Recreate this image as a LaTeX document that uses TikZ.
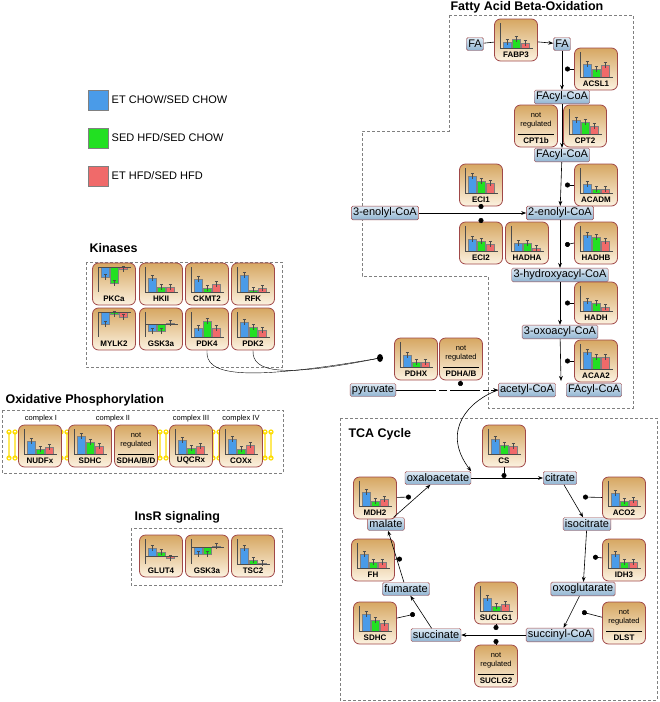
\documentclass[tikz,border=0pt]{standalone}
\usepackage{fontspec}
\setmainfont{Liberation Sans}
\usetikzlibrary{arrows.meta,positioning,shapes.geometric}

\definecolor{etchow}{HTML}{4A9BE8}
\definecolor{sedhfd}{HTML}{22E022}
\definecolor{ethfd}{HTML}{F06A6A}
\definecolor{boxred}{HTML}{A04848}
\definecolor{mettop}{HTML}{DDEAF4}
\definecolor{metbot}{HTML}{8FB3D1}
\definecolor{enztop}{HTML}{D6A762}
\definecolor{enzbot}{HTML}{FCF2E0}

\tikzset{
  met/.style = {draw=boxred, rounded corners=1.5, top color=mettop, bottom color=metbot,
                inner sep=1.8pt, minimum height=13, font=\fontsize{11}{12}\selectfont},
  enzbox/.style = {draw=boxred, thick, rounded corners=6, top color=enztop,
                   bottom color=enzbot, minimum width=43, minimum height=42},
  enzlab/.style = {font=\fontsize{8}{9}\selectfont\bfseries},
  react/.style = {semithick, -{Stealth[length=5pt]}},
  inhib/.style = {semithick, {Circle[length=5pt]}-},
  region/.style = {draw=gray, densely dashed},
  title/.style = {font=\fontsize{12.5}{14}\selectfont\bfseries, anchor=west}
}

% enzyme box: name, x, y, label, three bar heights, baseline offset
\newcommand\enz[8]{%
  \node[enzbox] (#1) at (#2,#3) {};
  \node[enzlab] at (#2,#3+14.5) {#4};
  \begin{scope}[shift={(#2,#3)}]
    \pgfmathsetmacro\yb{8-#8}
    \fill[etchow, draw=gray] (-13,\yb) rectangle (-5,\yb-#5);
    \fill[sedhfd, draw=gray] (-4,\yb) rectangle (4,\yb-#6);
    \fill[ethfd, draw=gray] (5,\yb) rectangle (13,\yb-#7);
    \foreach \bx/\bh in {-9/#5, 0/#6, 9/#7}
      \draw[black!70, very thin] (\bx,\yb-\bh-2.5) -- (\bx,\yb-\bh+2.5)
        (\bx-1.5,\yb-\bh-2.5) -- (\bx+1.5,\yb-\bh-2.5);
    \draw[black!70, thin] (-16,-17) -- (-16,8) (-16,\yb) -- (17,\yb);
  \end{scope}}

% enzyme box without data
\newcommand\nreg[4]{%
  \node[enzbox] (#1) at (#2,#3) {};
  \node[font=\fontsize{7.5}{9}\selectfont, align=center] at (#2,#3-6) {not\\regulated};
  \draw (#2-18,#3+8) -- (#2+18,#3+8);
  \node[enzlab] at (#2,#3+14.5) {#4};}

\begin{document}
\begin{tikzpicture}[x=1pt, y=-1pt]
\useasboundingbox (0,0) rectangle (660,702);

% legend
\foreach \c/\t [count=\i] in {etchow/{ET CHOW/SED CHOW}, sedhfd/{SED HFD/SED CHOW}, ethfd/{ET HFD/SED HFD}}
  \node[fill=\c, draw=gray, minimum size=20, label={[font=\fontsize{11}{12}\selectfont]right:\t}]
    (leg\i) at (98,62+38*\i) {};

% regions
\node[title] at (447,7) {Fatty Acid Beta-Oxidation};
\draw[region] (449,15) -- (633,15) -- (633,408) -- (488,408) -- (488,276) -- (362,276)
  -- (362,131) -- (449,131) -- cycle;
\node[title] at (86,248) {Kinases};
\draw[region] (86,262) rectangle (282,367);
\node[title] at (2,400) {Oxidative Phosphorylation};
\draw[region] (2,410) rectangle (283,473);
\node[title] at (131,517) {InsR signaling};
\draw[region] (131,528) rectangle (282,585);
\node[title] at (345,434) {TCA Cycle};
\draw[region] (340,418) rectangle (657,700);

% fatty acid beta-oxidation
\node[met] (fa1) at (475,44) {FA};
\node[met] (fa2) at (562,44) {FA};
\enz{fabp3}{516}{40}{FABP3}{6}{9}{5}{0}
\enz{acsl1}{596}{69}{ACSL1}{13}{8}{12}{0}
\node[met] (facoa1) at (562,97) {FAcyl-CoA};
\nreg{cpt1b}{536}{126}{CPT1b}
\enz{cpt2}{585}{126}{CPT2}{14}{12}{8}{0}
\node[met] (facoa2) at (562,155) {FAcyl-CoA};
\enz{eci1}{481}{185}{ECI1}{17}{12}{10}{0}
\enz{acadm}{596}{185}{ACADM}{9}{4}{4}{0}
\node[met] (enoyl3) at (385,213) {3-enolyl-CoA};
\node[met] (enoyl2) at (560,213) {2-enolyl-CoA};
\enz{eci2}{481}{243}{ECI2}{12}{10}{7}{0}
\enz{hadha}{527}{243}{HADHA}{8}{8}{3}{0}
\enz{hadhb}{596}{243}{HADHB}{16}{14}{10}{0}
\node[met] (hydroxy) at (560,275) {3-hydroxyacyl-CoA};
\enz{hadh}{596}{303}{HADH}{10}{8}{4}{0}
\node[met] (oxoacyl) at (560,332) {3-oxoacyl-CoA};
\enz{acaa2}{596}{361}{ACAA2}{17}{12}{12}{0}
\enz{pdhx}{416}{359}{PDHX}{12}{5}{5}{0}
\nreg{pdhab}{461}{359}{PDHA/B}
\node[met] (pyruvate) at (373,390) {pyruvate};
\node[met] (acetyl) at (527,390) {acetyl-CoA};
\node[met] (facoa3) at (594,390) {FAcyl-CoA};
\coordinate (betaend) at (561,381);
\coordinate (eci1dot) at (481,209);
\coordinate (eci2dot) at (481,218);
\coordinate (pdhdot) at (460,386);

\draw[semithick] (fa1) -- (fabp3);
\draw[react] (fabp3) -- (fa2);
\draw[react] (fa2) -- (facoa1);
\draw[react] (facoa1) -- (facoa2);
\draw[react] (facoa2) -- (enoyl2);
\draw[react] (enoyl3) -- (enoyl2);
\draw[react] (enoyl2) -- (hydroxy);
\draw[react] (hydroxy) -- (oxoacyl);
\draw[react] (oxoacyl) -- (betaend);
\draw[react, dash pattern=on 40pt off 3pt on 8pt off 3pt on 30pt off 3pt on 6pt off 2pt on 60pt] (pyruvate) -- (acetyl);
\foreach \e/\y in {acsl1/69, acadm/185, hadhb/245, hadh/303, acaa2/361}
  \draw[inhib] (565,\y) -- (\e.west);
\draw[inhib] (eci1dot) -- (eci1);
\draw[inhib] (eci2dot) -- (eci2);
\draw[inhib] (pdhdot) -- (pdhab.south);

% kinases
\enz{pkca}{114}{284}{PKCa}{-10}{-16}{-2}{25}
\enz{hkii}{161}{284}{HKII}{14}{5}{5}{0}
\enz{ckmt2}{207}{284}{CKMT2}{13}{4}{8}{0}
\enz{rfk}{253}{284}{RFK}{17}{2}{4}{0}
\enz{mylk2}{114}{329}{MYLK2}{-12}{-2}{-5}{25}
\enz{gskk}{161}{329}{GSK3a}{-7}{-7}{1}{13}
\enz{pdk4}{207}{329}{PDK4}{9}{16}{9}{0}
\enz{pdk2}{253}{329}{PDK2}{15}{10}{7}{0}
\node[ellipse, fill, minimum width=6, minimum height=8, inner sep=0] (pdkdot) at (380,358) {};
\draw (pdk4.south) .. controls (205,375) and (240,382) .. (pdkdot);
\draw (pdk2.south) .. controls (252,372) and (280,378) .. (pdkdot);

% oxidative phosphorylation
\foreach \x in {12,64,163,216,268}
  \foreach \dx in {-3,3}
    \draw[yellow!80!orange, very thick] (\x+\dx,432) -- (\x+\dx,458)
      (\x+\dx,432) circle (2) (\x+\dx,458) circle (2);
\foreach \x/\t in {41/complex I, 113/complex II, 191/complex III, 241/complex IV}
  \node[font=\fontsize{7.5}{8}\selectfont] at (\x,419) {\t};
\enz{nudfx}{40}{446}{NUDFx}{13}{5}{7}{0}
\enz{sdhcox}{90}{446}{SDHC}{18}{12}{8}{0}
\nreg{sdhabd}{136}{446}{SDHA/B/D}
\enz{uqcrx}{191}{446}{UQCRx}{14}{6}{8}{0}
\enz{coxx}{241}{446}{COXx}{15}{5}{9}{0}

% InsR signaling
\enz{glut4}{161}{556}{GLUT4}{8}{4}{-2}{8}
\enz{gskins}{207}{556}{GSK3a}{-7}{-7}{1}{17}
\enz{tsc2}{253}{556}{TSC2}{16}{4}{1}{0}

% TCA cycle
\node[met] (oxalo) at (438,478) {oxaloacetate};
\node[met] (citrate) at (560,478) {citrate};
\node[met] (malate) at (386,524) {malate};
\node[met] (isocit) at (587,524) {isocitrate};
\node[met] (fumarate) at (406,589) {fumarate};
\node[met] (oxoglu) at (583,589) {oxoglutarate};
\node[met] (succinate) at (436,635) {succinate};
\node[met] (succoa) at (560,635) {succinyl-CoA};
\enz{cs}{504}{446}{CS}{15}{9}{8}{0}
\enz{mdh2}{375}{498}{MDH2}{14}{5}{7}{0}
\enz{aco2}{624}{498}{ACO2}{13}{5}{6}{0}
\enz{fh}{373}{560}{FH}{14}{6}{6}{0}
\enz{idh3}{624}{560}{IDH3}{14}{6}{6}{0}
\enz{sdhc}{375}{623}{SDHC}{17}{11}{8}{0}
\enz{suclg1}{496}{603}{SUCLG1}{13}{5}{7}{0}
\nreg{dlst}{624}{623}{DLST}
\nreg{suclg2}{496}{666}{SUCLG2}
\coordinate (csdot) at (504,478);
\coordinate (mdhdot) at (411,497);
\coordinate (acodot) at (583,497);
\coordinate (fhdot) at (402,559);
\coordinate (idhdot) at (593,557);
\coordinate (sdhdot) at (415,614);
\coordinate (dlstdot) at (582,612);
\coordinate (sucdot1) at (496,630);
\coordinate (sucdot2) at (496,639);

\draw[react] (acetyl.west) .. controls (470,400) and (440,430) .. (oxalo.north east);
\draw[react] (oxalo) -- (citrate);
\draw[react] (citrate) -- (isocit);
\draw[react] (isocit) -- (oxoglu);
\draw[react] (oxoglu) -- (succoa);
\draw[react] (succoa) -- (succinate);
\draw[react] (succinate) -- (fumarate);
\draw[react] (fumarate) -- (malate);
\draw[react] (malate) -- (oxalo);
\draw[inhib] (csdot) -- (cs);
\draw[inhib] (mdhdot) -- (mdh2);
\draw[inhib] (acodot) -- (aco2);
\draw[inhib] (fhdot) -- (fh);
\draw[inhib] (idhdot) -- (idh3);
\draw[inhib] (sdhdot) -- (sdhc);
\draw[inhib] (dlstdot) -- (dlst);
\draw[inhib] (sucdot1) -- (suclg1);
\draw[inhib] (sucdot2) -- (suclg2);
\end{tikzpicture}
\end{document}
